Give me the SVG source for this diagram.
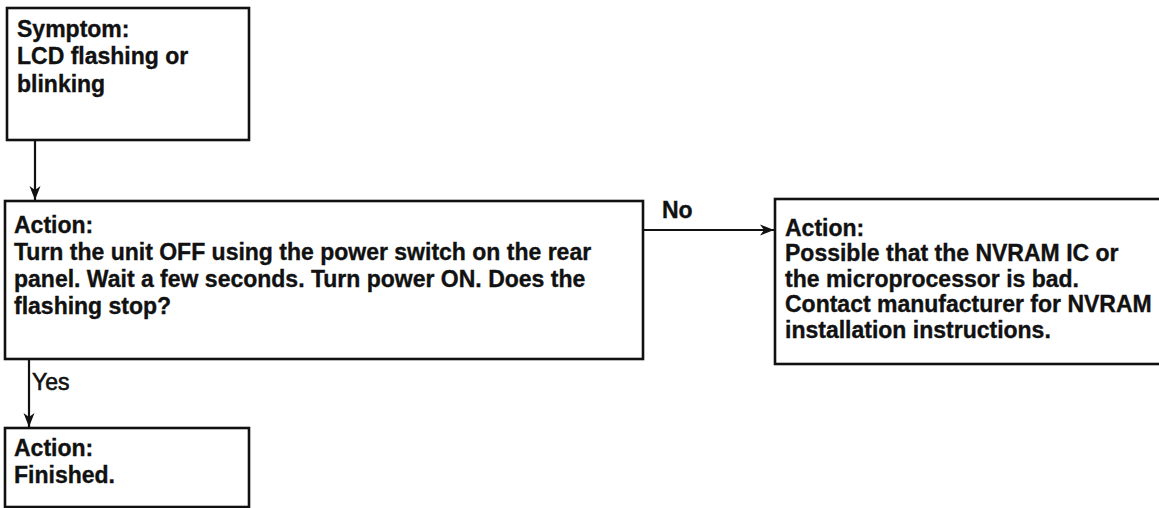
<svg xmlns="http://www.w3.org/2000/svg" width="1159" height="508" viewBox="0 0 1159 508">
<style>
.box{fill:#fff;stroke:#111;stroke-width:2.6}
.t{font-family:"Liberation Sans",Arial,sans-serif;font-weight:bold;font-size:23px;fill:#111;stroke:#111;stroke-width:0.35}
.lbl{font-weight:normal;stroke-width:0.6}
.c{stroke:#111;stroke-width:2.2;fill:none}
</style>
<defs>
<marker id="ah" viewBox="0 0 14 12" refX="14" refY="6" markerWidth="14" markerHeight="12" markerUnits="userSpaceOnUse" orient="auto">
<path d="M0,0.5 L14,6 L0,11.5 L4,6 Z" fill="#111"/>
</marker>
</defs>
<rect width="1159" height="508" fill="#fff"/>
<g id="connectors">
<line class="c" x1="35" y1="140" x2="35" y2="200" marker-end="url(#ah)"/>
<line class="c" x1="643" y1="230" x2="774" y2="230" marker-end="url(#ah)"/>
<text class="t" x="662" y="218">No</text>
<line class="c" x1="29" y1="359" x2="29" y2="427" marker-end="url(#ah)"/>
<text class="t lbl" x="32" y="390">Yes</text>
</g>
<g id="symptom">
<rect class="box" x="7" y="8" width="242" height="132"/>
<text class="t" x="17" y="37">Symptom:</text>
<text class="t" x="17" y="64">LCD flashing or</text>
<text class="t" x="17" y="92">blinking</text>
</g>
<g id="action-power">
<rect class="box" x="5" y="201" width="638" height="158"/>
<text class="t" x="14" y="233">Action:</text>
<text class="t" x="14" y="260">Turn the unit OFF using the power switch on the rear</text>
<text class="t" x="14" y="287">panel. Wait a few seconds. Turn power ON. Does the</text>
<text class="t" x="14" y="314">flashing stop?</text>
</g>
<g id="action-nvram">
<rect class="box" x="775" y="199" width="420" height="165"/>
<text class="t" x="785" y="236">Action:</text>
<text class="t" x="785" y="261">Possible that the NVRAM IC  or</text>
<text class="t" x="785" y="287">the microprocessor is bad.</text>
<text class="t" x="785" y="312">Contact manufacturer for NVRAM</text>
<text class="t" x="785" y="338">installation instructions.</text>
</g>
<g id="action-finished">
<rect class="box" x="5" y="428" width="244" height="79"/>
<text class="t" x="14" y="456">Action:</text>
<text class="t" x="14" y="483">Finished.</text>
</g>
</svg>
